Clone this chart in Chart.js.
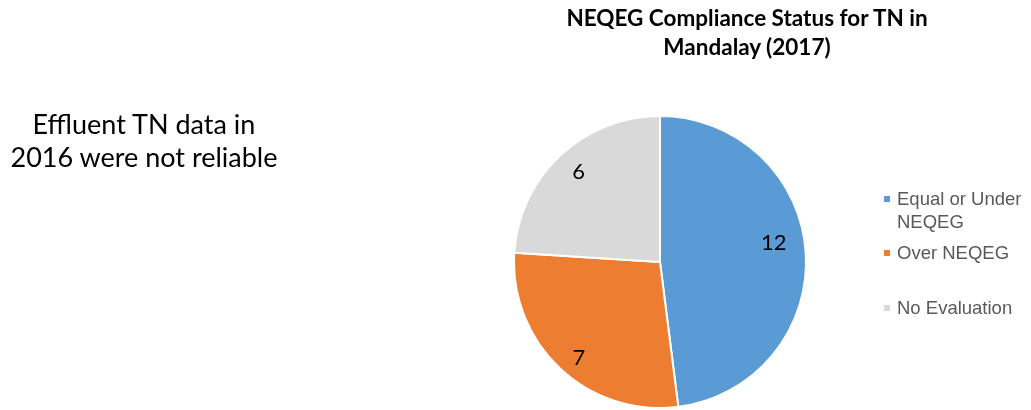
<!DOCTYPE html>
<html>
<head>
<meta charset="utf-8">
<script src="https://cdn.jsdelivr.net/npm/chart.js@4"></script>
<style>
  html, body { margin: 0; padding: 0; background: #fff; }
  #wrap { position: relative; width: 1031px; height: 410px; overflow: hidden; }
  #pieChart { position: absolute; left: 0; top: 0; }
  .note { position: absolute; left: 0; width: 288px; top: 107px; text-align: center;
          font-family: Lato, sans-serif; font-size: 27px; line-height: 33px; color: #000; }
  .title { position: absolute; left: 547px; width: 400px; top: 3px; text-align: center;
           font-family: Lato, sans-serif; font-weight: bold; font-size: 22.5px; line-height: 29px; color: #000; }
  #legend { position: absolute; left: 884px; top: 187px; font-family: "Liberation Sans", Arial, sans-serif;
            font-size: 18.5px; color: #595959; }
  .item { position: absolute; left: 0; white-space: nowrap; line-height: 23px; }
  .box { position: absolute; left: 0; top: 9px; width: 6px; height: 6px; }
  .lbl { position: absolute; left: 13px; top: 0; }
</style>
</head>
<body>
<div id="wrap">
  <canvas id="pieChart" width="1031" height="410"></canvas>
  <div class="note">Effluent TN data in<br>2016 were not reliable</div>
  <div class="title">NEQEG Compliance Status for TN in<br>Mandalay (2017)</div>
  <div id="legend"></div>
</div>
<script>
// === DATA ===
const categories = ['Equal or Under NEQEG', 'Over NEQEG', 'No Evaluation'];
const legendLines = [['Equal or Under', 'NEQEG'], ['Over NEQEG'], ['No Evaluation']];
const counts = [12, 7, 6];
const colors = ['#5B9BD5', '#ED7D31', '#D9D9D9'];
const legendTops = [0, 54, 109];
// label placement: [radius fraction, angle shift in degrees]
const labelPlace = [[0.79, -6], [0.86, -3], [0.83, 1]];

// === VALUE LABELS ===
const sliceLabels = {
  id: 'sliceLabels',
  afterDatasetsDraw(chart) {
    const c = chart.ctx;
    const meta = chart.getDatasetMeta(0);
    c.save();
    c.font = '22px Lato, sans-serif';
    c.fillStyle = '#000';
    c.textAlign = 'center';
    c.textBaseline = 'middle';
    meta.data.forEach((arc, i) => {
      const p = arc.getProps(['x', 'y', 'startAngle', 'endAngle', 'outerRadius'], true);
      const mid = (p.startAngle + p.endAngle) / 2 + labelPlace[i][1] * Math.PI / 180;
      const r = p.outerRadius * labelPlace[i][0];
      c.fillText(String(counts[i]), p.x + Math.cos(mid) * r, p.y + Math.sin(mid) * r);
    });
    c.restore();
  }
};

// === PIE ===
const ctx = document.getElementById('pieChart');
new Chart(ctx, {
  type: 'pie',
  data: {
    labels: categories,
    datasets: [{
      data: counts,
      backgroundColor: colors,
      borderColor: '#ffffff',
      borderWidth: 2
    }]
  },
  options: {
    responsive: false,
    animation: false,
    layout: { padding: { left: 513, right: 224, top: 115, bottom: 1 } },
    plugins: {
      legend: { display: false },
      tooltip: { enabled: false }
    }
  },
  plugins: [sliceLabels]
});

// === LEGEND ===
const legend = document.getElementById('legend');
categories.forEach((name, i) => {
  const item = document.createElement('div');
  item.className = 'item';
  item.style.top = legendTops[i] + 'px';
  const box = document.createElement('span');
  box.className = 'box';
  box.style.background = colors[i];
  const lbl = document.createElement('span');
  lbl.className = 'lbl';
  lbl.innerHTML = legendLines[i].join('<br>');
  item.appendChild(box);
  item.appendChild(lbl);
  legend.appendChild(item);
});
</script>
</body>
</html>
